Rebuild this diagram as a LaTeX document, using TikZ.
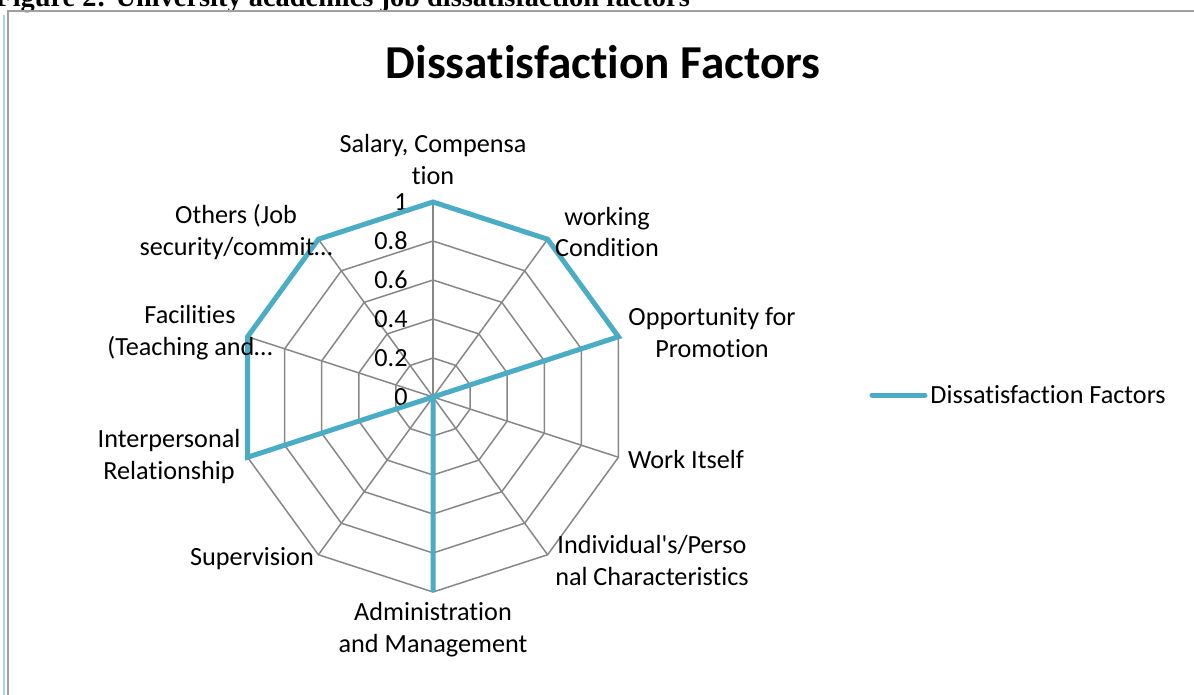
\documentclass[tikz,border=0pt]{standalone}
\usepackage{fontspec}
\setmainfont{Carlito}[Ligatures={NoCommon,TeX}]
\newfontfamily\capfont{Liberation Serif}
\usepackage{xcolor}
\usepackage{tikz}
\usetikzlibrary{shapes,arrows,positioning}

\definecolor{seriesblue}{HTML}{4BACC6}
\definecolor{gridgray}{HTML}{878787}
\definecolor{framegray}{HTML}{A0A0A0}
\definecolor{edgeblue}{HTML}{A8D6EA}

\tikzset{
    axislabel/.style={font=\fontsize{13.1}{16}\selectfont, align=center, inner sep=0pt},
    ticklabel/.style={font=\fontsize{13.1}{16}\selectfont, anchor=east, inner sep=0pt},
    gridline/.style={line width=0.75pt, draw=gridgray},
    seriesline/.style={line width=2.5pt, draw=seriesblue, line join=miter}
}

\begin{document}
\begin{tikzpicture}[x=0.5pt,y=-0.5pt]
                \useasboundingbox (0,0) rectangle (1194,695);

                % caption, cut by the page edge
                \node[
                    anchor=base west,
                    inner sep=0pt,
                    font=\capfont\bfseries\fontsize{14.2}{16}\selectfont
                    ] (caption) at (-5,6.5) {Figure 2: University academics job dissatisfaction factors};

                % chart frame
                \draw[
                    line width=1pt,
                    draw=edgeblue
                    ] (4,15) -- (4,695);
                \draw[
                    line width=0.9pt,
                    draw=framegray
                    ] (8,695) -- (8,11) -- (1194,11);

                \node[font=\bfseries\fontsize{23.6}{28}\selectfont] (title) at (603,62) {Dissatisfaction Factors};

                \begin{scope}[shift={(433,397)}]
                    % rings and spokes
                    \foreach \r in {39,78,117,156,195} {
                        \draw[gridline] (-90:\r) \foreach \i in {1,...,9} { -- (-90+36*\i:\r) } -- cycle;
                    }
                    \foreach \i in {0,...,9} {
                        \draw[gridline] (0,0) -- (-90+36*\i:195);
                    }
                    % data points
                    \foreach \v [count=\i from 0] in {1,1,1,0,0,1,0,1,1,1} {
                        \coordinate (p\i) at (-90+36*\i:195*\v);
                    }
                \end{scope}

                % scale values
                \foreach \t [count=\k from 0] in {0,0.2,0.4,0.6,0.8,1} {
                    \node[ticklabel] (tick\k) at (408,397-39*\k) {\t};
                }

                \draw[seriesline] (p0) -- (p1) -- (p2) -- (p3) -- (p4) -- (p5)
                    -- (p6) -- (p7) -- (p8) -- (p9) -- cycle;

                % axis labels
                \node[axislabel] (salary) at (433,160) {Salary, Compensa\\tion};
                \node[axislabel] (working) at (607,232) {working\\Condition};
                \node[axislabel] (promotion) at (712,333) {Opportunity for\\Promotion};
                \node[axislabel] (work) at (686,459) {Work Itself};
                \node[axislabel] (personal) at (652,560) {Individual\textquotesingle s/Perso\\nal Characteristics};
                \node[axislabel] (admin) at (433,630) {Administration\\and Management};
                \node[axislabel] (supervision) at (252,559) {Supervision};
                \node[axislabel] (relation) at (169,457) {Interpersonal\\Relationship};
                \node[axislabel] (facilities) at (190,333) {Facilities\\(Teaching and…};
                \node[axislabel] (others) at (236,232) {Others (Job\\security/commit…};

                % legend
                \coordinate (legstart) at (872,395);
                \node[axislabel, anchor=west] (legtext) at (930,395) {Dissatisfaction Factors};
                \draw[
                    seriesline,
                    line cap=round
                    ] (legstart) -- ([xshift=-2.5pt]legtext.west);

\end{tikzpicture}
\end{document}
